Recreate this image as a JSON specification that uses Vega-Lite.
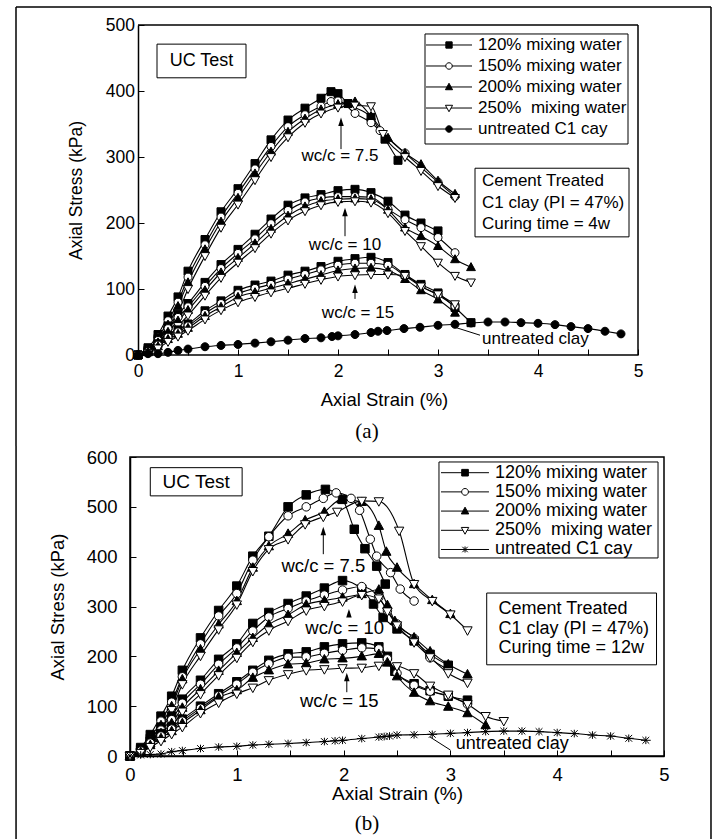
{
  "$schema": "https://vega.github.io/schema/vega-lite/v6.json",
  "padding": {"left": 14, "top": 6, "right": 8, "bottom": 0},
  "bounds": "flush",
  "spacing": 102,
  "background": "#ffffff",
  "config": {
    "font": "Liberation Sans",
    "view": {"stroke": "#000", "strokeWidth": 1.5},
    "axis": {"domainColor": "#000", "domainWidth": 1.5, "tickColor": "#000", "tickWidth": 1, "labelColor": "#000", "titleColor": "#000", "labelFont": "Liberation Sans", "titleFont": "Liberation Sans", "titleFontWeight": "normal", "grid": false, "labelOverlap": false, "labelFlush": false},
    "text": {"color": "#000", "font": "Liberation Sans"},
    "rule": {"color": "#000"}
  },
  "resolve": {"scale": {"x": "independent", "y": "independent", "shape": "independent", "fill": "independent"}},
  "datasets": {
    "A": [
      {"s":"120","w":"7.5","x":0,"y":0},{"s":"120","w":"7.5","x":0.1,"y":11},{"s":"120","w":"7.5","x":0.2,"y":31},{"s":"120","w":"7.5","x":0.3,"y":59},{"s":"120","w":"7.5","x":0.4,"y":88},{"s":"120","w":"7.5","x":0.5,"y":127},{"s":"120","w":"7.5","x":0.67,"y":175},{"s":"120","w":"7.5","x":0.83,"y":217},{"s":"120","w":"7.5","x":1,"y":252},{"s":"120","w":"7.5","x":1.17,"y":290},{"s":"120","w":"7.5","x":1.33,"y":326},{"s":"120","w":"7.5","x":1.5,"y":356},{"s":"120","w":"7.5","x":1.67,"y":374},{"s":"120","w":"7.5","x":1.83,"y":389},{"s":"120","w":"7.5","x":1.93,"y":399},{"s":"120","w":"7.5","x":2,"y":396},{"s":"120","w":"7.5","x":2.1,"y":381},{"s":"120","w":"7.5","x":2.33,"y":360},{"s":"120","w":"7.5","x":2.47,"y":327},{"s":"120","w":"7.5","x":2.6,"y":295},
      {"s":"150","w":"7.5","x":0,"y":0},{"s":"150","w":"7.5","x":0.1,"y":8},{"s":"150","w":"7.5","x":0.2,"y":26},{"s":"150","w":"7.5","x":0.3,"y":52},{"s":"150","w":"7.5","x":0.4,"y":80},{"s":"150","w":"7.5","x":0.5,"y":118},{"s":"150","w":"7.5","x":0.67,"y":167},{"s":"150","w":"7.5","x":0.83,"y":209},{"s":"150","w":"7.5","x":1,"y":245},{"s":"150","w":"7.5","x":1.17,"y":282},{"s":"150","w":"7.5","x":1.33,"y":316},{"s":"150","w":"7.5","x":1.5,"y":346},{"s":"150","w":"7.5","x":1.67,"y":364},{"s":"150","w":"7.5","x":1.83,"y":377},{"s":"150","w":"7.5","x":1.93,"y":384},{"s":"150","w":"7.5","x":2,"y":385},{"s":"150","w":"7.5","x":2.17,"y":366},{"s":"150","w":"7.5","x":2.33,"y":352},{"s":"150","w":"7.5","x":2.42,"y":340},{"s":"150","w":"7.5","x":2.67,"y":306},{"s":"150","w":"7.5","x":3,"y":262},{"s":"150","w":"7.5","x":3.17,"y":240},
      {"s":"200","w":"7.5","x":0,"y":0},{"s":"200","w":"7.5","x":0.1,"y":6},{"s":"200","w":"7.5","x":0.2,"y":22},{"s":"200","w":"7.5","x":0.3,"y":46},{"s":"200","w":"7.5","x":0.4,"y":74},{"s":"200","w":"7.5","x":0.5,"y":110},{"s":"200","w":"7.5","x":0.67,"y":160},{"s":"200","w":"7.5","x":0.83,"y":202},{"s":"200","w":"7.5","x":1,"y":238},{"s":"200","w":"7.5","x":1.17,"y":275},{"s":"200","w":"7.5","x":1.33,"y":308},{"s":"200","w":"7.5","x":1.5,"y":338},{"s":"200","w":"7.5","x":1.67,"y":358},{"s":"200","w":"7.5","x":1.83,"y":372},{"s":"200","w":"7.5","x":2,"y":380},{"s":"200","w":"7.5","x":2.17,"y":384},{"s":"200","w":"7.5","x":2.33,"y":362},{"s":"200","w":"7.5","x":2.5,"y":329},{"s":"200","w":"7.5","x":2.67,"y":306},{"s":"200","w":"7.5","x":2.83,"y":289},{"s":"200","w":"7.5","x":3,"y":264},{"s":"200","w":"7.5","x":3.17,"y":244},
      {"s":"250","w":"7.5","x":0,"y":0},{"s":"250","w":"7.5","x":0.1,"y":4},{"s":"250","w":"7.5","x":0.2,"y":16},{"s":"250","w":"7.5","x":0.3,"y":38},{"s":"250","w":"7.5","x":0.4,"y":64},{"s":"250","w":"7.5","x":0.5,"y":100},{"s":"250","w":"7.5","x":0.67,"y":150},{"s":"250","w":"7.5","x":0.83,"y":193},{"s":"250","w":"7.5","x":1,"y":228},{"s":"250","w":"7.5","x":1.17,"y":265},{"s":"250","w":"7.5","x":1.33,"y":300},{"s":"250","w":"7.5","x":1.5,"y":330},{"s":"250","w":"7.5","x":1.67,"y":352},{"s":"250","w":"7.5","x":1.83,"y":366},{"s":"250","w":"7.5","x":2,"y":375},{"s":"250","w":"7.5","x":2.17,"y":378},{"s":"250","w":"7.5","x":2.33,"y":377},{"s":"250","w":"7.5","x":2.45,"y":335},{"s":"250","w":"7.5","x":2.67,"y":300},{"s":"250","w":"7.5","x":2.83,"y":279},{"s":"250","w":"7.5","x":3,"y":256},{"s":"250","w":"7.5","x":3.17,"y":238},
      {"s":"120","w":"10","x":0,"y":0},{"s":"120","w":"10","x":0.1,"y":8},{"s":"120","w":"10","x":0.2,"y":25},{"s":"120","w":"10","x":0.3,"y":44},{"s":"120","w":"10","x":0.4,"y":62},{"s":"120","w":"10","x":0.5,"y":78},{"s":"120","w":"10","x":0.67,"y":110},{"s":"120","w":"10","x":0.83,"y":137},{"s":"120","w":"10","x":1,"y":160},{"s":"120","w":"10","x":1.17,"y":183},{"s":"120","w":"10","x":1.33,"y":206},{"s":"120","w":"10","x":1.5,"y":227},{"s":"120","w":"10","x":1.67,"y":238},{"s":"120","w":"10","x":1.83,"y":243},{"s":"120","w":"10","x":2,"y":249},{"s":"120","w":"10","x":2.17,"y":251},{"s":"120","w":"10","x":2.33,"y":246},{"s":"120","w":"10","x":2.5,"y":233},{"s":"120","w":"10","x":2.67,"y":212},{"s":"120","w":"10","x":2.83,"y":200},{"s":"120","w":"10","x":3,"y":188},
      {"s":"150","w":"10","x":0,"y":0},{"s":"150","w":"10","x":0.1,"y":7},{"s":"150","w":"10","x":0.2,"y":22},{"s":"150","w":"10","x":0.3,"y":40},{"s":"150","w":"10","x":0.4,"y":57},{"s":"150","w":"10","x":0.5,"y":73},{"s":"150","w":"10","x":0.67,"y":104},{"s":"150","w":"10","x":0.83,"y":131},{"s":"150","w":"10","x":1,"y":154},{"s":"150","w":"10","x":1.17,"y":176},{"s":"150","w":"10","x":1.33,"y":199},{"s":"150","w":"10","x":1.5,"y":219},{"s":"150","w":"10","x":1.67,"y":232},{"s":"150","w":"10","x":1.83,"y":238},{"s":"150","w":"10","x":2,"y":240},{"s":"150","w":"10","x":2.17,"y":240},{"s":"150","w":"10","x":2.33,"y":239},{"s":"150","w":"10","x":2.5,"y":221},{"s":"150","w":"10","x":2.67,"y":205},{"s":"150","w":"10","x":2.83,"y":193},{"s":"150","w":"10","x":3,"y":178},{"s":"150","w":"10","x":3.17,"y":155},
      {"s":"200","w":"10","x":0,"y":0},{"s":"200","w":"10","x":0.1,"y":6},{"s":"200","w":"10","x":0.2,"y":19},{"s":"200","w":"10","x":0.3,"y":35},{"s":"200","w":"10","x":0.4,"y":52},{"s":"200","w":"10","x":0.5,"y":68},{"s":"200","w":"10","x":0.67,"y":98},{"s":"200","w":"10","x":0.83,"y":125},{"s":"200","w":"10","x":1,"y":147},{"s":"200","w":"10","x":1.17,"y":169},{"s":"200","w":"10","x":1.33,"y":191},{"s":"200","w":"10","x":1.5,"y":211},{"s":"200","w":"10","x":1.67,"y":225},{"s":"200","w":"10","x":1.83,"y":233},{"s":"200","w":"10","x":2,"y":236},{"s":"200","w":"10","x":2.17,"y":237},{"s":"200","w":"10","x":2.33,"y":236},{"s":"200","w":"10","x":2.5,"y":220},{"s":"200","w":"10","x":2.67,"y":193},{"s":"200","w":"10","x":2.83,"y":180},{"s":"200","w":"10","x":3,"y":165},{"s":"200","w":"10","x":3.17,"y":145},{"s":"200","w":"10","x":3.33,"y":133},
      {"s":"250","w":"10","x":0,"y":0},{"s":"250","w":"10","x":0.1,"y":4},{"s":"250","w":"10","x":0.2,"y":14},{"s":"250","w":"10","x":0.3,"y":28},{"s":"250","w":"10","x":0.4,"y":44},{"s":"250","w":"10","x":0.5,"y":60},{"s":"250","w":"10","x":0.67,"y":90},{"s":"250","w":"10","x":0.83,"y":117},{"s":"250","w":"10","x":1,"y":140},{"s":"250","w":"10","x":1.17,"y":162},{"s":"250","w":"10","x":1.33,"y":184},{"s":"250","w":"10","x":1.5,"y":204},{"s":"250","w":"10","x":1.67,"y":218},{"s":"250","w":"10","x":1.83,"y":227},{"s":"250","w":"10","x":2,"y":232},{"s":"250","w":"10","x":2.17,"y":233},{"s":"250","w":"10","x":2.33,"y":231},{"s":"250","w":"10","x":2.5,"y":215},{"s":"250","w":"10","x":2.67,"y":188},{"s":"250","w":"10","x":2.83,"y":165},{"s":"250","w":"10","x":3,"y":140},{"s":"250","w":"10","x":3.17,"y":120},{"s":"250","w":"10","x":3.33,"y":110},
      {"s":"120","w":"15","x":0,"y":0},{"s":"120","w":"15","x":0.1,"y":6},{"s":"120","w":"15","x":0.2,"y":17},{"s":"120","w":"15","x":0.3,"y":30},{"s":"120","w":"15","x":0.4,"y":38},{"s":"120","w":"15","x":0.5,"y":47},{"s":"120","w":"15","x":0.67,"y":67},{"s":"120","w":"15","x":0.83,"y":82},{"s":"120","w":"15","x":1,"y":98},{"s":"120","w":"15","x":1.17,"y":106},{"s":"120","w":"15","x":1.33,"y":112},{"s":"120","w":"15","x":1.5,"y":121},{"s":"120","w":"15","x":1.67,"y":127},{"s":"120","w":"15","x":1.83,"y":134},{"s":"120","w":"15","x":2,"y":142},{"s":"120","w":"15","x":2.17,"y":146},{"s":"120","w":"15","x":2.33,"y":148},{"s":"120","w":"15","x":2.5,"y":140},{"s":"120","w":"15","x":2.67,"y":122},{"s":"120","w":"15","x":2.83,"y":107},{"s":"120","w":"15","x":3,"y":94},{"s":"120","w":"15","x":3.17,"y":72},{"s":"120","w":"15","x":3.33,"y":49},
      {"s":"150","w":"15","x":0,"y":0},{"s":"150","w":"15","x":0.1,"y":5},{"s":"150","w":"15","x":0.2,"y":15},{"s":"150","w":"15","x":0.3,"y":27},{"s":"150","w":"15","x":0.4,"y":35},{"s":"150","w":"15","x":0.5,"y":44},{"s":"150","w":"15","x":0.67,"y":63},{"s":"150","w":"15","x":0.83,"y":78},{"s":"150","w":"15","x":1,"y":93},{"s":"150","w":"15","x":1.17,"y":101},{"s":"150","w":"15","x":1.33,"y":107},{"s":"150","w":"15","x":1.5,"y":115},{"s":"150","w":"15","x":1.67,"y":122},{"s":"150","w":"15","x":1.83,"y":129},{"s":"150","w":"15","x":2,"y":136},{"s":"150","w":"15","x":2.17,"y":139},{"s":"150","w":"15","x":2.33,"y":139},{"s":"150","w":"15","x":2.5,"y":136},{"s":"150","w":"15","x":2.67,"y":120},{"s":"150","w":"15","x":2.83,"y":104},{"s":"150","w":"15","x":3,"y":91},{"s":"150","w":"15","x":3.17,"y":74},
      {"s":"200","w":"15","x":0,"y":0},{"s":"200","w":"15","x":0.1,"y":4},{"s":"200","w":"15","x":0.2,"y":13},{"s":"200","w":"15","x":0.3,"y":24},{"s":"200","w":"15","x":0.4,"y":32},{"s":"200","w":"15","x":0.5,"y":41},{"s":"200","w":"15","x":0.67,"y":59},{"s":"200","w":"15","x":0.83,"y":73},{"s":"200","w":"15","x":1,"y":88},{"s":"200","w":"15","x":1.17,"y":95},{"s":"200","w":"15","x":1.33,"y":101},{"s":"200","w":"15","x":1.5,"y":108},{"s":"200","w":"15","x":1.67,"y":115},{"s":"200","w":"15","x":1.83,"y":121},{"s":"200","w":"15","x":2,"y":128},{"s":"200","w":"15","x":2.17,"y":131},{"s":"200","w":"15","x":2.33,"y":132},{"s":"200","w":"15","x":2.5,"y":128},{"s":"200","w":"15","x":2.67,"y":115},{"s":"200","w":"15","x":2.83,"y":98},{"s":"200","w":"15","x":3,"y":84},{"s":"200","w":"15","x":3.17,"y":64},
      {"s":"250","w":"15","x":0,"y":0},{"s":"250","w":"15","x":0.1,"y":3},{"s":"250","w":"15","x":0.2,"y":10},{"s":"250","w":"15","x":0.3,"y":20},{"s":"250","w":"15","x":0.4,"y":28},{"s":"250","w":"15","x":0.5,"y":37},{"s":"250","w":"15","x":0.67,"y":54},{"s":"250","w":"15","x":0.83,"y":68},{"s":"250","w":"15","x":1,"y":80},{"s":"250","w":"15","x":1.17,"y":88},{"s":"250","w":"15","x":1.33,"y":95},{"s":"250","w":"15","x":1.5,"y":101},{"s":"250","w":"15","x":1.67,"y":108},{"s":"250","w":"15","x":1.83,"y":114},{"s":"250","w":"15","x":2,"y":119},{"s":"250","w":"15","x":2.17,"y":121},{"s":"250","w":"15","x":2.33,"y":122},{"s":"250","w":"15","x":2.5,"y":122},{"s":"250","w":"15","x":2.67,"y":120},{"s":"250","w":"15","x":2.83,"y":104},{"s":"250","w":"15","x":3,"y":92},{"s":"250","w":"15","x":3.17,"y":77},
      {"s":"u","w":"u","x":0,"y":0},{"s":"u","w":"u","x":0.1,"y":2},{"s":"u","w":"u","x":0.2,"y":2},{"s":"u","w":"u","x":0.3,"y":4},{"s":"u","w":"u","x":0.4,"y":7},{"s":"u","w":"u","x":0.5,"y":9},{"s":"u","w":"u","x":0.67,"y":12.5},{"s":"u","w":"u","x":0.83,"y":14.5},{"s":"u","w":"u","x":1,"y":16},{"s":"u","w":"u","x":1.17,"y":18},{"s":"u","w":"u","x":1.33,"y":20},{"s":"u","w":"u","x":1.5,"y":22.5},{"s":"u","w":"u","x":1.67,"y":25},{"s":"u","w":"u","x":1.83,"y":26},{"s":"u","w":"u","x":1.94,"y":28},{"s":"u","w":"u","x":2,"y":29},{"s":"u","w":"u","x":2.17,"y":31},{"s":"u","w":"u","x":2.33,"y":34},{"s":"u","w":"u","x":2.4,"y":36},{"s":"u","w":"u","x":2.49,"y":37},{"s":"u","w":"u","x":2.66,"y":40},{"s":"u","w":"u","x":2.82,"y":42},{"s":"u","w":"u","x":3,"y":45},{"s":"u","w":"u","x":3.17,"y":46.5},{"s":"u","w":"u","x":3.33,"y":48.5},{"s":"u","w":"u","x":3.5,"y":50},{"s":"u","w":"u","x":3.67,"y":50},{"s":"u","w":"u","x":3.83,"y":49},{"s":"u","w":"u","x":4,"y":48},{"s":"u","w":"u","x":4.17,"y":46},{"s":"u","w":"u","x":4.33,"y":43},{"s":"u","w":"u","x":4.5,"y":40},{"s":"u","w":"u","x":4.67,"y":36},{"s":"u","w":"u","x":4.83,"y":32}
    ],
    "B": [
      {"s":"120","w":"7.5","x":0,"y":0},{"s":"120","w":"7.5","x":0.1,"y":17},{"s":"120","w":"7.5","x":0.19,"y":43},{"s":"120","w":"7.5","x":0.29,"y":80},{"s":"120","w":"7.5","x":0.39,"y":120},{"s":"120","w":"7.5","x":0.49,"y":172},{"s":"120","w":"7.5","x":0.66,"y":237},{"s":"120","w":"7.5","x":0.83,"y":292},{"s":"120","w":"7.5","x":1,"y":341},{"s":"120","w":"7.5","x":1.15,"y":401},{"s":"120","w":"7.5","x":1.3,"y":441},{"s":"120","w":"7.5","x":1.48,"y":500},{"s":"120","w":"7.5","x":1.65,"y":524},{"s":"120","w":"7.5","x":1.83,"y":535},{"s":"120","w":"7.5","x":1.99,"y":515},{"s":"120","w":"7.5","x":2.1,"y":455},{"s":"120","w":"7.5","x":2.2,"y":416},{"s":"120","w":"7.5","x":2.31,"y":381},{"s":"120","w":"7.5","x":2.39,"y":345},
      {"s":"150","w":"7.5","x":0,"y":0},{"s":"150","w":"7.5","x":0.1,"y":12},{"s":"150","w":"7.5","x":0.19,"y":35},{"s":"150","w":"7.5","x":0.29,"y":70},{"s":"150","w":"7.5","x":0.39,"y":108},{"s":"150","w":"7.5","x":0.49,"y":159},{"s":"150","w":"7.5","x":0.66,"y":225},{"s":"150","w":"7.5","x":0.83,"y":281},{"s":"150","w":"7.5","x":1,"y":326},{"s":"150","w":"7.5","x":1.15,"y":393},{"s":"150","w":"7.5","x":1.3,"y":440},{"s":"150","w":"7.5","x":1.48,"y":482},{"s":"150","w":"7.5","x":1.65,"y":500},{"s":"150","w":"7.5","x":1.81,"y":517},{"s":"150","w":"7.5","x":1.93,"y":528},{"s":"150","w":"7.5","x":2.07,"y":517},{"s":"150","w":"7.5","x":2.15,"y":493},{"s":"150","w":"7.5","x":2.25,"y":435},{"s":"150","w":"7.5","x":2.31,"y":401},{"s":"150","w":"7.5","x":2.44,"y":368},{"s":"150","w":"7.5","x":2.53,"y":335},{"s":"150","w":"7.5","x":2.66,"y":311},
      {"s":"200","w":"7.5","x":0,"y":0},{"s":"200","w":"7.5","x":0.1,"y":10},{"s":"200","w":"7.5","x":0.19,"y":30},{"s":"200","w":"7.5","x":0.29,"y":62},{"s":"200","w":"7.5","x":0.39,"y":100},{"s":"200","w":"7.5","x":0.49,"y":154},{"s":"200","w":"7.5","x":0.66,"y":214},{"s":"200","w":"7.5","x":0.83,"y":264},{"s":"200","w":"7.5","x":1,"y":311},{"s":"200","w":"7.5","x":1.15,"y":378},{"s":"200","w":"7.5","x":1.3,"y":421},{"s":"200","w":"7.5","x":1.48,"y":446},{"s":"200","w":"7.5","x":1.64,"y":473},{"s":"200","w":"7.5","x":1.82,"y":490},{"s":"200","w":"7.5","x":1.98,"y":515},{"s":"200","w":"7.5","x":2.17,"y":510},{"s":"200","w":"7.5","x":2.33,"y":462},{"s":"200","w":"7.5","x":2.4,"y":410},{"s":"200","w":"7.5","x":2.5,"y":378},{"s":"200","w":"7.5","x":2.66,"y":345},{"s":"200","w":"7.5","x":2.83,"y":313},{"s":"200","w":"7.5","x":3,"y":285},
      {"s":"250","w":"7.5","x":0,"y":0},{"s":"250","w":"7.5","x":0.1,"y":8},{"s":"250","w":"7.5","x":0.19,"y":25},{"s":"250","w":"7.5","x":0.29,"y":55},{"s":"250","w":"7.5","x":0.39,"y":92},{"s":"250","w":"7.5","x":0.49,"y":144},{"s":"250","w":"7.5","x":0.66,"y":201},{"s":"250","w":"7.5","x":0.83,"y":254},{"s":"250","w":"7.5","x":1,"y":304},{"s":"250","w":"7.5","x":1.15,"y":371},{"s":"250","w":"7.5","x":1.3,"y":415},{"s":"250","w":"7.5","x":1.48,"y":435},{"s":"250","w":"7.5","x":1.64,"y":465},{"s":"250","w":"7.5","x":1.81,"y":480},{"s":"250","w":"7.5","x":1.94,"y":490},{"s":"250","w":"7.5","x":2.17,"y":512},{"s":"250","w":"7.5","x":2.33,"y":511},{"s":"250","w":"7.5","x":2.52,"y":452},{"s":"250","w":"7.5","x":2.66,"y":345},{"s":"250","w":"7.5","x":2.83,"y":311},{"s":"250","w":"7.5","x":3,"y":284},{"s":"250","w":"7.5","x":3.16,"y":252},
      {"s":"120","w":"10","x":0,"y":0},{"s":"120","w":"10","x":0.1,"y":14},{"s":"120","w":"10","x":0.19,"y":35},{"s":"120","w":"10","x":0.29,"y":58},{"s":"120","w":"10","x":0.39,"y":80},{"s":"120","w":"10","x":0.49,"y":114},{"s":"120","w":"10","x":0.66,"y":152},{"s":"120","w":"10","x":0.83,"y":194},{"s":"120","w":"10","x":1,"y":225},{"s":"120","w":"10","x":1.15,"y":266},{"s":"120","w":"10","x":1.3,"y":288},{"s":"120","w":"10","x":1.48,"y":306},{"s":"120","w":"10","x":1.65,"y":321},{"s":"120","w":"10","x":1.82,"y":337},{"s":"120","w":"10","x":1.99,"y":352},{"s":"120","w":"10","x":2.17,"y":335},{"s":"120","w":"10","x":2.28,"y":305},{"s":"120","w":"10","x":2.37,"y":278},{"s":"120","w":"10","x":2.5,"y":255},{"s":"120","w":"10","x":2.66,"y":231},{"s":"120","w":"10","x":2.81,"y":204},{"s":"120","w":"10","x":2.98,"y":182},
      {"s":"150","w":"10","x":0,"y":0},{"s":"150","w":"10","x":0.1,"y":11},{"s":"150","w":"10","x":0.19,"y":30},{"s":"150","w":"10","x":0.29,"y":52},{"s":"150","w":"10","x":0.39,"y":73},{"s":"150","w":"10","x":0.49,"y":106},{"s":"150","w":"10","x":0.66,"y":144},{"s":"150","w":"10","x":0.83,"y":184},{"s":"150","w":"10","x":1,"y":217},{"s":"150","w":"10","x":1.15,"y":251},{"s":"150","w":"10","x":1.3,"y":279},{"s":"150","w":"10","x":1.48,"y":296},{"s":"150","w":"10","x":1.65,"y":311},{"s":"150","w":"10","x":1.82,"y":323},{"s":"150","w":"10","x":1.99,"y":333},{"s":"150","w":"10","x":2.17,"y":340},{"s":"150","w":"10","x":2.33,"y":318},{"s":"150","w":"10","x":2.41,"y":292},{"s":"150","w":"10","x":2.5,"y":265},{"s":"150","w":"10","x":2.66,"y":236},{"s":"150","w":"10","x":2.81,"y":197},{"s":"150","w":"10","x":2.98,"y":174},
      {"s":"200","w":"10","x":0,"y":0},{"s":"200","w":"10","x":0.1,"y":9},{"s":"200","w":"10","x":0.19,"y":26},{"s":"200","w":"10","x":0.29,"y":46},{"s":"200","w":"10","x":0.39,"y":66},{"s":"200","w":"10","x":0.49,"y":97},{"s":"200","w":"10","x":0.66,"y":134},{"s":"200","w":"10","x":0.83,"y":171},{"s":"200","w":"10","x":1,"y":207},{"s":"200","w":"10","x":1.15,"y":237},{"s":"200","w":"10","x":1.3,"y":264},{"s":"200","w":"10","x":1.48,"y":283},{"s":"200","w":"10","x":1.65,"y":304},{"s":"200","w":"10","x":1.82,"y":312},{"s":"200","w":"10","x":1.99,"y":318},{"s":"200","w":"10","x":2.17,"y":325},{"s":"200","w":"10","x":2.33,"y":334},{"s":"200","w":"10","x":2.41,"y":303},{"s":"200","w":"10","x":2.48,"y":271},{"s":"200","w":"10","x":2.66,"y":238},{"s":"200","w":"10","x":2.81,"y":210},{"s":"200","w":"10","x":2.98,"y":184},{"s":"200","w":"10","x":3.16,"y":164},
      {"s":"250","w":"10","x":0,"y":0},{"s":"250","w":"10","x":0.1,"y":7},{"s":"250","w":"10","x":0.19,"y":22},{"s":"250","w":"10","x":0.29,"y":40},{"s":"250","w":"10","x":0.39,"y":59},{"s":"250","w":"10","x":0.49,"y":89},{"s":"250","w":"10","x":0.66,"y":124},{"s":"250","w":"10","x":0.83,"y":162},{"s":"250","w":"10","x":1,"y":197},{"s":"250","w":"10","x":1.15,"y":229},{"s":"250","w":"10","x":1.3,"y":252},{"s":"250","w":"10","x":1.48,"y":271},{"s":"250","w":"10","x":1.65,"y":292},{"s":"250","w":"10","x":1.82,"y":301},{"s":"250","w":"10","x":1.99,"y":310},{"s":"250","w":"10","x":2.17,"y":323},{"s":"250","w":"10","x":2.33,"y":316},{"s":"250","w":"10","x":2.41,"y":290},{"s":"250","w":"10","x":2.5,"y":262},{"s":"250","w":"10","x":2.66,"y":228},{"s":"250","w":"10","x":2.81,"y":198},{"s":"250","w":"10","x":2.98,"y":166},{"s":"250","w":"10","x":3.16,"y":147},
      {"s":"120","w":"15","x":0,"y":0},{"s":"120","w":"15","x":0.1,"y":12},{"s":"120","w":"15","x":0.19,"y":30},{"s":"120","w":"15","x":0.29,"y":45},{"s":"120","w":"15","x":0.39,"y":58},{"s":"120","w":"15","x":0.49,"y":74},{"s":"120","w":"15","x":0.66,"y":100},{"s":"120","w":"15","x":0.83,"y":125},{"s":"120","w":"15","x":1,"y":149},{"s":"120","w":"15","x":1.15,"y":172},{"s":"120","w":"15","x":1.3,"y":192},{"s":"120","w":"15","x":1.48,"y":205},{"s":"120","w":"15","x":1.65,"y":209},{"s":"120","w":"15","x":1.82,"y":219},{"s":"120","w":"15","x":1.99,"y":225},{"s":"120","w":"15","x":2.17,"y":227},{"s":"120","w":"15","x":2.33,"y":219},{"s":"120","w":"15","x":2.41,"y":200},{"s":"120","w":"15","x":2.48,"y":170},{"s":"120","w":"15","x":2.66,"y":145},{"s":"120","w":"15","x":2.81,"y":131},{"s":"120","w":"15","x":2.98,"y":120},{"s":"120","w":"15","x":3.16,"y":112},
      {"s":"150","w":"15","x":0,"y":0},{"s":"150","w":"15","x":0.1,"y":10},{"s":"150","w":"15","x":0.19,"y":26},{"s":"150","w":"15","x":0.29,"y":40},{"s":"150","w":"15","x":0.39,"y":54},{"s":"150","w":"15","x":0.49,"y":70},{"s":"150","w":"15","x":0.66,"y":96},{"s":"150","w":"15","x":0.83,"y":121},{"s":"150","w":"15","x":1,"y":144},{"s":"150","w":"15","x":1.15,"y":168},{"s":"150","w":"15","x":1.3,"y":185},{"s":"150","w":"15","x":1.48,"y":198},{"s":"150","w":"15","x":1.65,"y":199},{"s":"150","w":"15","x":1.82,"y":206},{"s":"150","w":"15","x":1.99,"y":212},{"s":"150","w":"15","x":2.17,"y":217},{"s":"150","w":"15","x":2.33,"y":215},{"s":"150","w":"15","x":2.41,"y":195},{"s":"150","w":"15","x":2.5,"y":166},{"s":"150","w":"15","x":2.66,"y":142},{"s":"150","w":"15","x":2.81,"y":130},{"s":"150","w":"15","x":2.98,"y":121},{"s":"150","w":"15","x":3.16,"y":104},
      {"s":"200","w":"15","x":0,"y":0},{"s":"200","w":"15","x":0.1,"y":8},{"s":"200","w":"15","x":0.19,"y":22},{"s":"200","w":"15","x":0.29,"y":36},{"s":"200","w":"15","x":0.39,"y":50},{"s":"200","w":"15","x":0.49,"y":66},{"s":"200","w":"15","x":0.66,"y":92},{"s":"200","w":"15","x":0.83,"y":118},{"s":"200","w":"15","x":1,"y":132},{"s":"200","w":"15","x":1.15,"y":157},{"s":"200","w":"15","x":1.3,"y":172},{"s":"200","w":"15","x":1.48,"y":184},{"s":"200","w":"15","x":1.65,"y":186},{"s":"200","w":"15","x":1.82,"y":194},{"s":"200","w":"15","x":1.99,"y":196},{"s":"200","w":"15","x":2.17,"y":200},{"s":"200","w":"15","x":2.33,"y":205},{"s":"200","w":"15","x":2.41,"y":188},{"s":"200","w":"15","x":2.5,"y":160},{"s":"200","w":"15","x":2.66,"y":127},{"s":"200","w":"15","x":2.81,"y":110},{"s":"200","w":"15","x":2.98,"y":99},{"s":"200","w":"15","x":3.16,"y":86},{"s":"200","w":"15","x":3.33,"y":62},
      {"s":"250","w":"15","x":0,"y":0},{"s":"250","w":"15","x":0.1,"y":6},{"s":"250","w":"15","x":0.19,"y":18},{"s":"250","w":"15","x":0.29,"y":30},{"s":"250","w":"15","x":0.39,"y":44},{"s":"250","w":"15","x":0.49,"y":58},{"s":"250","w":"15","x":0.66,"y":86},{"s":"250","w":"15","x":0.83,"y":107},{"s":"250","w":"15","x":1,"y":125},{"s":"250","w":"15","x":1.15,"y":137},{"s":"250","w":"15","x":1.3,"y":152},{"s":"250","w":"15","x":1.48,"y":164},{"s":"250","w":"15","x":1.65,"y":172},{"s":"250","w":"15","x":1.82,"y":174},{"s":"250","w":"15","x":1.99,"y":176},{"s":"250","w":"15","x":2.17,"y":177},{"s":"250","w":"15","x":2.33,"y":181},{"s":"250","w":"15","x":2.5,"y":180},{"s":"250","w":"15","x":2.66,"y":166},{"s":"250","w":"15","x":2.81,"y":141},{"s":"250","w":"15","x":2.98,"y":123},{"s":"250","w":"15","x":3.16,"y":104},{"s":"250","w":"15","x":3.33,"y":80},{"s":"250","w":"15","x":3.5,"y":70},
      {"s":"u","w":"u","x":0,"y":0},{"s":"u","w":"u","x":0.1,"y":2},{"s":"u","w":"u","x":0.19,"y":3},{"s":"u","w":"u","x":0.29,"y":4},{"s":"u","w":"u","x":0.39,"y":8.6},{"s":"u","w":"u","x":0.49,"y":11},{"s":"u","w":"u","x":0.66,"y":15},{"s":"u","w":"u","x":0.83,"y":18},{"s":"u","w":"u","x":1,"y":19.5},{"s":"u","w":"u","x":1.15,"y":22},{"s":"u","w":"u","x":1.3,"y":23.5},{"s":"u","w":"u","x":1.48,"y":25},{"s":"u","w":"u","x":1.65,"y":27},{"s":"u","w":"u","x":1.82,"y":29},{"s":"u","w":"u","x":1.92,"y":30.5},{"s":"u","w":"u","x":1.99,"y":31.5},{"s":"u","w":"u","x":2.17,"y":35},{"s":"u","w":"u","x":2.33,"y":38},{"s":"u","w":"u","x":2.38,"y":39},{"s":"u","w":"u","x":2.43,"y":40},{"s":"u","w":"u","x":2.5,"y":42},{"s":"u","w":"u","x":2.66,"y":42.5},{"s":"u","w":"u","x":2.83,"y":43.5},{"s":"u","w":"u","x":3,"y":45.5},{"s":"u","w":"u","x":3.16,"y":47},{"s":"u","w":"u","x":3.33,"y":49},{"s":"u","w":"u","x":3.5,"y":50},{"s":"u","w":"u","x":3.67,"y":50},{"s":"u","w":"u","x":3.83,"y":49},{"s":"u","w":"u","x":4,"y":47},{"s":"u","w":"u","x":4.16,"y":45},{"s":"u","w":"u","x":4.33,"y":42},{"s":"u","w":"u","x":4.5,"y":40},{"s":"u","w":"u","x":4.67,"y":35.5},{"s":"u","w":"u","x":4.83,"y":31.5}
    ]
  },
  "vconcat": [
    {
      "width": 508,
      "height": 330,
      "view": {"stroke": null},
      "data": {"values": [{}]},
      "layer": [
        {
          "data": {"name": "A"},
          "mark": {"type": "line", "interpolate": "monotone", "color": "#000", "strokeWidth": 1.1},
          "encoding": {
            "x": {"field": "x", "type": "quantitative", "scale": {"domain": [-0.08, 5], "nice": false, "zero": false},
              "axis": {"title": "Axial Strain (%)", "domain": false, "values": [0, 0.5, 1, 1.5, 2, 2.5, 3, 3.5, 4, 4.5, 5], "format": ".0f", "labelExpr": "datum.value % 1 === 0 ? datum.label : ''", "tickSize": -6, "labelPadding": 13, "labelFontSize": 17.5, "titleFontSize": 18.5, "titlePadding": 11}},
            "y": {"field": "y", "type": "quantitative", "scale": {"domain": [0, 500], "nice": false},
              "axis": {"title": "Axial Stress (kPa)", "offset": -8, "values": [0, 50, 100, 150, 200, 250, 300, 350, 400, 450, 500], "labelExpr": "datum.value % 100 === 0 ? datum.label : ''", "tickSize": -6, "labelPadding": 9.5, "labelFontSize": 17.5, "titleFontSize": 17.5, "titlePadding": 19.5}},
            "detail": [{"field": "s"}, {"field": "w"}]
          }
        },
        {
          "data": {"name": "A"},
          "mark": {"type": "point", "filled": true, "stroke": "#000", "strokeWidth": 1, "size": 64, "opacity": 1},
          "encoding": {
            "x": {"field": "x", "type": "quantitative"},
            "y": {"field": "y", "type": "quantitative"},
            "shape": {"field": "s", "type": "nominal", "legend": null,
              "scale": {"domain": ["120", "150", "200", "250", "u"], "range": ["M-1,-1H1V1H-1Z", "M1,0A1,1,0,1,1,-1,0A1,1,0,1,1,1,0Z", "M0,-1.15L1.1,0.85H-1.1Z", "M0,1.15L1.1,-0.85H-1.1Z", "M1,0A1,1,0,1,1,-1,0A1,1,0,1,1,1,0Z"]}},
            "fill": {"field": "s", "type": "nominal", "legend": null, "scale": {"domain": ["120", "150", "200", "250", "u"], "range": ["#000", "#fff", "#000", "#fff", "#000"]}}
          }
        },
        {"mark": {"type": "rule", "strokeWidth": 1.5}, "encoding": {"x": {"datum": 0}, "x2": {"datum": 5}, "y": {"datum": 0}}},
        {"mark": {"type": "rule", "strokeWidth": 1.5}, "encoding": {"x": {"datum": 0}, "x2": {"datum": 5}, "y": {"datum": 500}}},
        {"mark": {"type": "rule", "strokeWidth": 1.5}, "encoding": {"x": {"datum": 5}, "y": {"datum": 0}, "y2": {"datum": 500}}},
        {"mark": {"type": "rule", "clip": false, "strokeWidth": 1.5}, "encoding": {"x": {"datum": -1.22}, "y": {"datum": 527.3}, "y2": {"datum": -137.9}}},
        {"mark": {"type": "rule", "clip": false, "strokeWidth": 1.5}, "encoding": {"x": {"datum": 5.73}, "y": {"datum": 527.3}, "y2": {"datum": -137.9}}},
        {"mark": {"type": "rule", "clip": false, "strokeWidth": 1.5}, "encoding": {"x": {"datum": -1.22}, "x2": {"datum": 5.73}, "y": {"datum": 527.3}}},
        {"mark": {"type": "text", "clip": false, "font": "Liberation Serif", "fontSize": 21, "align": "center", "baseline": "middle"}, "encoding": {"x": {"datum": 2.29}, "y": {"datum": -116.7}, "text": {"value": "(a)"}}},
        {"mark": {"type": "rect", "fillOpacity": 0, "stroke": "#000", "strokeWidth": 1}, "encoding": {"x": {"datum": 0.19}, "x2": {"datum": 1.08}, "y": {"datum": 420}, "y2": {"datum": 471}}},
        {"mark": {"type": "text", "fontSize": 18, "align": "center", "baseline": "middle"}, "encoding": {"x": {"datum": 0.635}, "y": {"datum": 445.5}, "text": {"value": "UC Test"}}},
        {"mark": {"type": "rect", "fillOpacity": 0, "stroke": "#000", "strokeWidth": 1}, "encoding": {"x": {"datum": 2.87}, "x2": {"datum": 4.9}, "y": {"datum": 319.7}, "y2": {"datum": 486.4}}},
        {"mark": {"type": "rule", "strokeWidth": 1}, "encoding": {"x": {"datum": 2.88}, "x2": {"datum": 3.34}, "y": {"datum": 469.7}}},
        {"mark": {"type": "point", "shape": "M-1,-1H1V1H-1Z", "size": 40, "filled": true, "fill": "#000", "stroke": "#000", "strokeWidth": 1, "opacity": 1}, "encoding": {"x": {"datum": 3.11}, "y": {"datum": 469.7}}},
        {"mark": {"type": "text", "fontSize": 17, "align": "left", "baseline": "middle"}, "encoding": {"x": {"datum": 3.4}, "y": {"datum": 469.7}, "text": {"value": "120% mixing water"}}},
        {"mark": {"type": "rule", "strokeWidth": 1}, "encoding": {"x": {"datum": 2.88}, "x2": {"datum": 3.34}, "y": {"datum": 437.9}}},
        {"mark": {"type": "point", "shape": "M1,0A1,1,0,1,1,-1,0A1,1,0,1,1,1,0Z", "size": 42, "filled": true, "fill": "#fff", "stroke": "#000", "strokeWidth": 1, "opacity": 1}, "encoding": {"x": {"datum": 3.11}, "y": {"datum": 437.9}}},
        {"mark": {"type": "text", "fontSize": 17, "align": "left", "baseline": "middle"}, "encoding": {"x": {"datum": 3.4}, "y": {"datum": 437.9}, "text": {"value": "150% mixing water"}}},
        {"mark": {"type": "rule", "strokeWidth": 1}, "encoding": {"x": {"datum": 2.88}, "x2": {"datum": 3.34}, "y": {"datum": 406.1}}},
        {"mark": {"type": "point", "shape": "M0,-1.15L1.1,0.85H-1.1Z", "size": 42, "filled": true, "fill": "#000", "stroke": "#000", "strokeWidth": 1, "opacity": 1}, "encoding": {"x": {"datum": 3.11}, "y": {"datum": 406.1}}},
        {"mark": {"type": "text", "fontSize": 17, "align": "left", "baseline": "middle"}, "encoding": {"x": {"datum": 3.4}, "y": {"datum": 406.1}, "text": {"value": "200% mixing water"}}},
        {"mark": {"type": "rule", "strokeWidth": 1}, "encoding": {"x": {"datum": 2.88}, "x2": {"datum": 3.34}, "y": {"datum": 374.2}}},
        {"mark": {"type": "point", "shape": "M0,1.15L1.1,-0.85H-1.1Z", "size": 42, "filled": true, "fill": "#fff", "stroke": "#000", "strokeWidth": 1, "opacity": 1}, "encoding": {"x": {"datum": 3.11}, "y": {"datum": 374.2}}},
        {"mark": {"type": "text", "fontSize": 17, "align": "left", "baseline": "middle"}, "encoding": {"x": {"datum": 3.4}, "y": {"datum": 374.2}, "text": {"value": "250%\u00a0 mixing water"}}},
        {"mark": {"type": "rule", "strokeWidth": 1}, "encoding": {"x": {"datum": 2.88}, "x2": {"datum": 3.34}, "y": {"datum": 342.4}}},
        {"mark": {"type": "point", "shape": "M1,0A1,1,0,1,1,-1,0A1,1,0,1,1,1,0Z", "size": 42, "filled": true, "fill": "#000", "stroke": "#000", "strokeWidth": 1, "opacity": 1}, "encoding": {"x": {"datum": 3.11}, "y": {"datum": 342.4}}},
        {"mark": {"type": "text", "fontSize": 17, "align": "left", "baseline": "middle"}, "encoding": {"x": {"datum": 3.4}, "y": {"datum": 342.4}, "text": {"value": "untreated C1 cay"}}},
        {"mark": {"type": "rect", "fillOpacity": 0, "stroke": "#000", "strokeWidth": 1}, "encoding": {"x": {"datum": 3.37}, "x2": {"datum": 4.91}, "y": {"datum": 179}, "y2": {"datum": 283}}},
        {"mark": {"type": "text", "fontSize": 17, "align": "left", "baseline": "middle"}, "encoding": {"x": {"datum": 3.44}, "y": {"datum": 264}, "text": {"value": "Cement Treated"}}},
        {"mark": {"type": "text", "fontSize": 17, "align": "left", "baseline": "middle"}, "encoding": {"x": {"datum": 3.44}, "y": {"datum": 230}, "text": {"value": "C1 clay (PI = 47%)"}}},
        {"mark": {"type": "text", "fontSize": 17, "align": "left", "baseline": "middle"}, "encoding": {"x": {"datum": 3.44}, "y": {"datum": 198}, "text": {"value": "Curing time = 4w"}}},
        {"mark": {"type": "text", "fontSize": 17, "align": "center", "baseline": "middle"}, "encoding": {"x": {"datum": 2.02}, "y": {"datum": 301}, "text": {"value": "wc/c = 7.5"}}},
        {"mark": {"type": "text", "fontSize": 17, "align": "center", "baseline": "middle"}, "encoding": {"x": {"datum": 2.07}, "y": {"datum": 167}, "text": {"value": "wc/c = 10"}}},
        {"mark": {"type": "text", "fontSize": 17, "align": "center", "baseline": "middle"}, "encoding": {"x": {"datum": 2.2}, "y": {"datum": 64}, "text": {"value": "wc/c = 15"}}},
        {"mark": {"type": "rule", "strokeWidth": 1}, "encoding": {"x": {"datum": 2.03}, "y": {"datum": 312}, "y2": {"datum": 356}}},
        {"mark": {"type": "rule", "strokeWidth": 1}, "encoding": {"x": {"datum": 2.07}, "y": {"datum": 180}, "y2": {"datum": 219}}},
        {"mark": {"type": "rule", "strokeWidth": 1}, "encoding": {"x": {"datum": 2.17}, "y": {"datum": 85}, "y2": {"datum": 103}}},
        {"mark": {"type": "point", "shape": "M0,0L0.55,1.7H-0.55Z", "size": 100, "filled": true, "color": "#000", "opacity": 1}, "encoding": {"x": {"datum": 2.03}, "y": {"datum": 360}}},
        {"mark": {"type": "point", "shape": "M0,0L0.55,1.7H-0.55Z", "size": 100, "filled": true, "color": "#000", "opacity": 1}, "encoding": {"x": {"datum": 2.07}, "y": {"datum": 223}}},
        {"mark": {"type": "point", "shape": "M0,0L0.55,1.7H-0.55Z", "size": 100, "filled": true, "color": "#000", "opacity": 1}, "encoding": {"x": {"datum": 2.17}, "y": {"datum": 107}}},
        {"mark": {"type": "text", "fontSize": 17, "align": "left", "baseline": "middle"}, "encoding": {"x": {"datum": 3.44}, "y": {"datum": 24}, "text": {"value": "untreated clay"}}},
        {"mark": {"type": "rule", "strokeWidth": 1}, "encoding": {"x": {"datum": 3.17}, "x2": {"datum": 3.42}, "y": {"datum": 42}, "y2": {"datum": 30}}}
      ]
    },
    {
      "width": 534,
      "height": 299,
      "data": {"values": [{}]},
      "layer": [
        {
          "data": {"name": "B"},
          "mark": {"type": "line", "interpolate": "monotone", "color": "#000", "strokeWidth": 1.1},
          "encoding": {
            "x": {"field": "x", "type": "quantitative", "scale": {"domain": [0, 5], "nice": false, "zero": false},
              "axis": {"title": "Axial Strain (%)", "values": [0, 0.5, 1, 1.5, 2, 2.5, 3, 3.5, 4, 4.5, 5], "format": ".0f", "labelExpr": "datum.value % 1 === 0 ? datum.label : ''", "tickSize": -6, "labelPadding": 15, "labelFontSize": 18.5, "titleFontSize": 19, "titlePadding": 1}},
            "y": {"field": "y", "type": "quantitative", "scale": {"domain": [0, 600], "nice": false},
              "axis": {"title": "Axial Stress (kPa)", "values": [0, 50, 100, 150, 200, 250, 300, 350, 400, 450, 500, 550, 600], "labelExpr": "datum.value % 100 === 0 ? datum.label : ''", "tickSize": -6, "labelPadding": 19, "labelFontSize": 18.5, "titleFontSize": 18.5, "titlePadding": 19}},
            "detail": [{"field": "s"}, {"field": "w"}]
          }
        },
        {
          "data": {"name": "B"},
          "mark": {"type": "point", "filled": true, "stroke": "#000", "strokeWidth": 1, "size": 72, "opacity": 1},
          "encoding": {
            "x": {"field": "x", "type": "quantitative"},
            "y": {"field": "y", "type": "quantitative"},
            "shape": {"field": "s", "type": "nominal", "legend": null,
              "scale": {"domain": ["120", "150", "200", "250", "u"], "range": ["M-1,-1H1V1H-1Z", "M1,0A1,1,0,1,1,-1,0A1,1,0,1,1,1,0Z", "M0,-1.15L1.1,0.85H-1.1Z", "M0,1.15L1.1,-0.85H-1.1Z", "M-1.15,0H1.15M-0.8,-0.8L0.8,0.8M-0.8,0.8L0.8,-0.8M0,-0.9V0.9"]}},
            "fill": {"field": "s", "type": "nominal", "legend": null, "scale": {"domain": ["120", "150", "200", "250", "u"], "range": ["#000", "#fff", "#000", "#fff", "#000"]}}
          }
        },
        {"mark": {"type": "rule", "clip": false, "strokeWidth": 1.5}, "encoding": {"x": {"datum": -1.067}, "y": {"datum": 622.1}, "y2": {"datum": -168.6}}},
        {"mark": {"type": "rule", "clip": false, "strokeWidth": 1.5}, "encoding": {"x": {"datum": 5.44}, "y": {"datum": 622.1}, "y2": {"datum": -168.6}}},
        {"mark": {"type": "text", "clip": false, "font": "Liberation Serif", "fontSize": 21, "align": "center", "baseline": "middle"}, "encoding": {"x": {"datum": 2.22}, "y": {"datum": -136.5}, "text": {"value": "(b)"}}},
        {"mark": {"type": "rect", "fillOpacity": 0, "stroke": "#000", "strokeWidth": 1}, "encoding": {"x": {"datum": 0.19}, "x2": {"datum": 1.05}, "y": {"datum": 522}, "y2": {"datum": 578.6}}},
        {"mark": {"type": "text", "fontSize": 19, "align": "center", "baseline": "middle"}, "encoding": {"x": {"datum": 0.62}, "y": {"datum": 550}, "text": {"value": "UC Test"}}},
        {"mark": {"type": "rect", "fillOpacity": 0, "stroke": "#000", "strokeWidth": 1}, "encoding": {"x": {"datum": 2.893}, "x2": {"datum": 4.944}, "y": {"datum": 397.4}, "y2": {"datum": 590}}},
        {"mark": {"type": "rule", "strokeWidth": 1}, "encoding": {"x": {"datum": 2.912}, "x2": {"datum": 3.361}, "y": {"datum": 568.5}}},
        {"mark": {"type": "point", "shape": "M-1,-1H1V1H-1Z", "size": 44, "filled": true, "fill": "#000", "stroke": "#000", "strokeWidth": 1, "opacity": 1}, "encoding": {"x": {"datum": 3.137}, "y": {"datum": 568.5}}},
        {"mark": {"type": "text", "fontSize": 18, "align": "left", "baseline": "middle"}, "encoding": {"x": {"datum": 3.418}, "y": {"datum": 568.5}, "text": {"value": "120% mixing water"}}},
        {"mark": {"type": "rule", "strokeWidth": 1}, "encoding": {"x": {"datum": 2.912}, "x2": {"datum": 3.361}, "y": {"datum": 530}}},
        {"mark": {"type": "point", "shape": "M1,0A1,1,0,1,1,-1,0A1,1,0,1,1,1,0Z", "size": 46, "filled": true, "fill": "#fff", "stroke": "#000", "strokeWidth": 1, "opacity": 1}, "encoding": {"x": {"datum": 3.137}, "y": {"datum": 530}}},
        {"mark": {"type": "text", "fontSize": 18, "align": "left", "baseline": "middle"}, "encoding": {"x": {"datum": 3.418}, "y": {"datum": 530}, "text": {"value": "150% mixing water"}}},
        {"mark": {"type": "rule", "strokeWidth": 1}, "encoding": {"x": {"datum": 2.912}, "x2": {"datum": 3.361}, "y": {"datum": 491.5}}},
        {"mark": {"type": "point", "shape": "M0,-1.15L1.1,0.85H-1.1Z", "size": 46, "filled": true, "fill": "#000", "stroke": "#000", "strokeWidth": 1, "opacity": 1}, "encoding": {"x": {"datum": 3.137}, "y": {"datum": 491.5}}},
        {"mark": {"type": "text", "fontSize": 18, "align": "left", "baseline": "middle"}, "encoding": {"x": {"datum": 3.418}, "y": {"datum": 491.5}, "text": {"value": "200% mixing water"}}},
        {"mark": {"type": "rule", "strokeWidth": 1}, "encoding": {"x": {"datum": 2.912}, "x2": {"datum": 3.361}, "y": {"datum": 452.9}}},
        {"mark": {"type": "point", "shape": "M0,1.15L1.1,-0.85H-1.1Z", "size": 46, "filled": true, "fill": "#fff", "stroke": "#000", "strokeWidth": 1, "opacity": 1}, "encoding": {"x": {"datum": 3.137}, "y": {"datum": 452.9}}},
        {"mark": {"type": "text", "fontSize": 18, "align": "left", "baseline": "middle"}, "encoding": {"x": {"datum": 3.418}, "y": {"datum": 452.9}, "text": {"value": "250%\u00a0 mixing water"}}},
        {"mark": {"type": "rule", "strokeWidth": 1}, "encoding": {"x": {"datum": 2.912}, "x2": {"datum": 3.361}, "y": {"datum": 414.4}}},
        {"mark": {"type": "point", "shape": "M-1.15,0H1.15M-0.8,-0.8L0.8,0.8M-0.8,0.8L0.8,-0.8M0,-0.9V0.9", "size": 46, "filled": false, "stroke": "#000", "strokeWidth": 1, "opacity": 1}, "encoding": {"x": {"datum": 3.137}, "y": {"datum": 414.4}}},
        {"mark": {"type": "text", "fontSize": 18, "align": "left", "baseline": "middle"}, "encoding": {"x": {"datum": 3.418}, "y": {"datum": 414.4}, "text": {"value": "untreated C1 cay"}}},
        {"mark": {"type": "rect", "fillOpacity": 0, "stroke": "#000", "strokeWidth": 1}, "encoding": {"x": {"datum": 3.34}, "x2": {"datum": 4.93}, "y": {"datum": 183}, "y2": {"datum": 327}}},
        {"mark": {"type": "text", "fontSize": 18, "align": "left", "baseline": "middle"}, "encoding": {"x": {"datum": 3.45}, "y": {"datum": 294}, "text": {"value": "Cement Treated"}}},
        {"mark": {"type": "text", "fontSize": 18, "align": "left", "baseline": "middle"}, "encoding": {"x": {"datum": 3.45}, "y": {"datum": 254}, "text": {"value": "C1 clay (PI = 47%)"}}},
        {"mark": {"type": "text", "fontSize": 18, "align": "left", "baseline": "middle"}, "encoding": {"x": {"datum": 3.45}, "y": {"datum": 217}, "text": {"value": "Curing time = 12w"}}},
        {"mark": {"type": "text", "fontSize": 18.5, "align": "center", "baseline": "middle"}, "encoding": {"x": {"datum": 1.81}, "y": {"datum": 381}, "text": {"value": "wc/c = 7.5"}}},
        {"mark": {"type": "text", "fontSize": 18.5, "align": "center", "baseline": "middle"}, "encoding": {"x": {"datum": 2.01}, "y": {"datum": 257}, "text": {"value": "wc/c = 10"}}},
        {"mark": {"type": "text", "fontSize": 18.5, "align": "center", "baseline": "middle"}, "encoding": {"x": {"datum": 1.96}, "y": {"datum": 110}, "text": {"value": "wc/c = 15"}}},
        {"mark": {"type": "rule", "strokeWidth": 1}, "encoding": {"x": {"datum": 1.81}, "y": {"datum": 405}, "y2": {"datum": 455}}},
        {"mark": {"type": "rule", "strokeWidth": 1}, "encoding": {"x": {"datum": 2.05}, "y": {"datum": 279}, "y2": {"datum": 290}}},
        {"mark": {"type": "rule", "strokeWidth": 1}, "encoding": {"x": {"datum": 2.03}, "y": {"datum": 128}, "y2": {"datum": 162}}},
        {"mark": {"type": "point", "shape": "M0,0L0.55,1.7H-0.55Z", "size": 100, "filled": true, "color": "#000", "opacity": 1}, "encoding": {"x": {"datum": 1.81}, "y": {"datum": 460}}},
        {"mark": {"type": "point", "shape": "M0,0L0.55,1.7H-0.55Z", "size": 100, "filled": true, "color": "#000", "opacity": 1}, "encoding": {"x": {"datum": 2.05}, "y": {"datum": 295}}},
        {"mark": {"type": "point", "shape": "M0,0L0.55,1.7H-0.55Z", "size": 100, "filled": true, "color": "#000", "opacity": 1}, "encoding": {"x": {"datum": 2.03}, "y": {"datum": 167}}},
        {"mark": {"type": "text", "fontSize": 18, "align": "left", "baseline": "middle"}, "encoding": {"x": {"datum": 3.05}, "y": {"datum": 24}, "text": {"value": "untreated clay"}}},
        {"mark": {"type": "rule", "strokeWidth": 1}, "encoding": {"x": {"datum": 2.81}, "x2": {"datum": 3.0}, "y": {"datum": 38}, "y2": {"datum": 12}}}
      ]
    }
  ]
}
